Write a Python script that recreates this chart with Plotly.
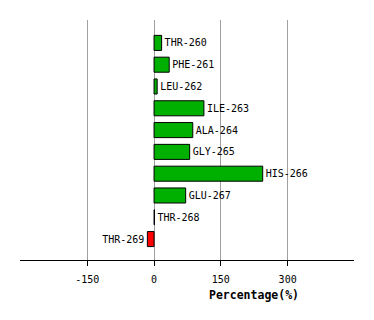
import plotly.graph_objects as go

residues = ["THR-260", "PHE-261", "LEU-262", "ILE-263", "ALA-264",
            "GLY-265", "HIS-266", "GLU-267", "THR-268", "THR-269"]
percent = [17, 34, 7, 112, 87, 80, 244, 71, 1, -15]
tick_vals = [-150, 0, 150, 300]

colors = ["#00B000" if v >= 0 else "#FF0000" for v in percent]

fig = go.Figure(go.Bar(
    x=percent, y=residues, orientation="h",
    marker=dict(color=colors, line=dict(color="black", width=1)),
    width=0.69,
    text=residues, textposition="outside",
    textfont=dict(family="DejaVu Sans Mono", size=10, color="black"),
    cliponaxis=False,
))

fig.update_layout(
    width=374, height=320,
    margin=dict(l=20, r=20, t=20, b=60),
    paper_bgcolor="white", plot_bgcolor="white",
    showlegend=False,
    font=dict(family="DejaVu Sans Mono", size=10, color="black"),
    xaxis=dict(
        range=[-301, 449],
        tickvals=tick_vals, ticktext=[str(v) for v in tick_vals],
        showgrid=True, gridcolor="#A0A0A0", gridwidth=1,
        zeroline=False,
        showline=True, linecolor="black", linewidth=1,
        ticks="outside", ticklen=5, tickcolor="black",
        ticklabelstandoff=5,
        tickfont=dict(family="DejaVu Sans Mono", size=10),
    ),
    yaxis=dict(
        categoryorder="array", categoryarray=residues,
        range=[9.96, -1.05],
        showticklabels=False, showgrid=False, zeroline=False,
        showline=False, ticks="",
    ),
    annotations=[dict(
        text="<b>Percentage(%)</b>", xref="paper", yref="paper",
        x=0.70, y=0, yshift=-35, xanchor="center", yanchor="middle",
        showarrow=False,
        font=dict(family="DejaVu Sans Mono", size=11.5, color="black"),
    )],
)

fig.write_html("out.html")
